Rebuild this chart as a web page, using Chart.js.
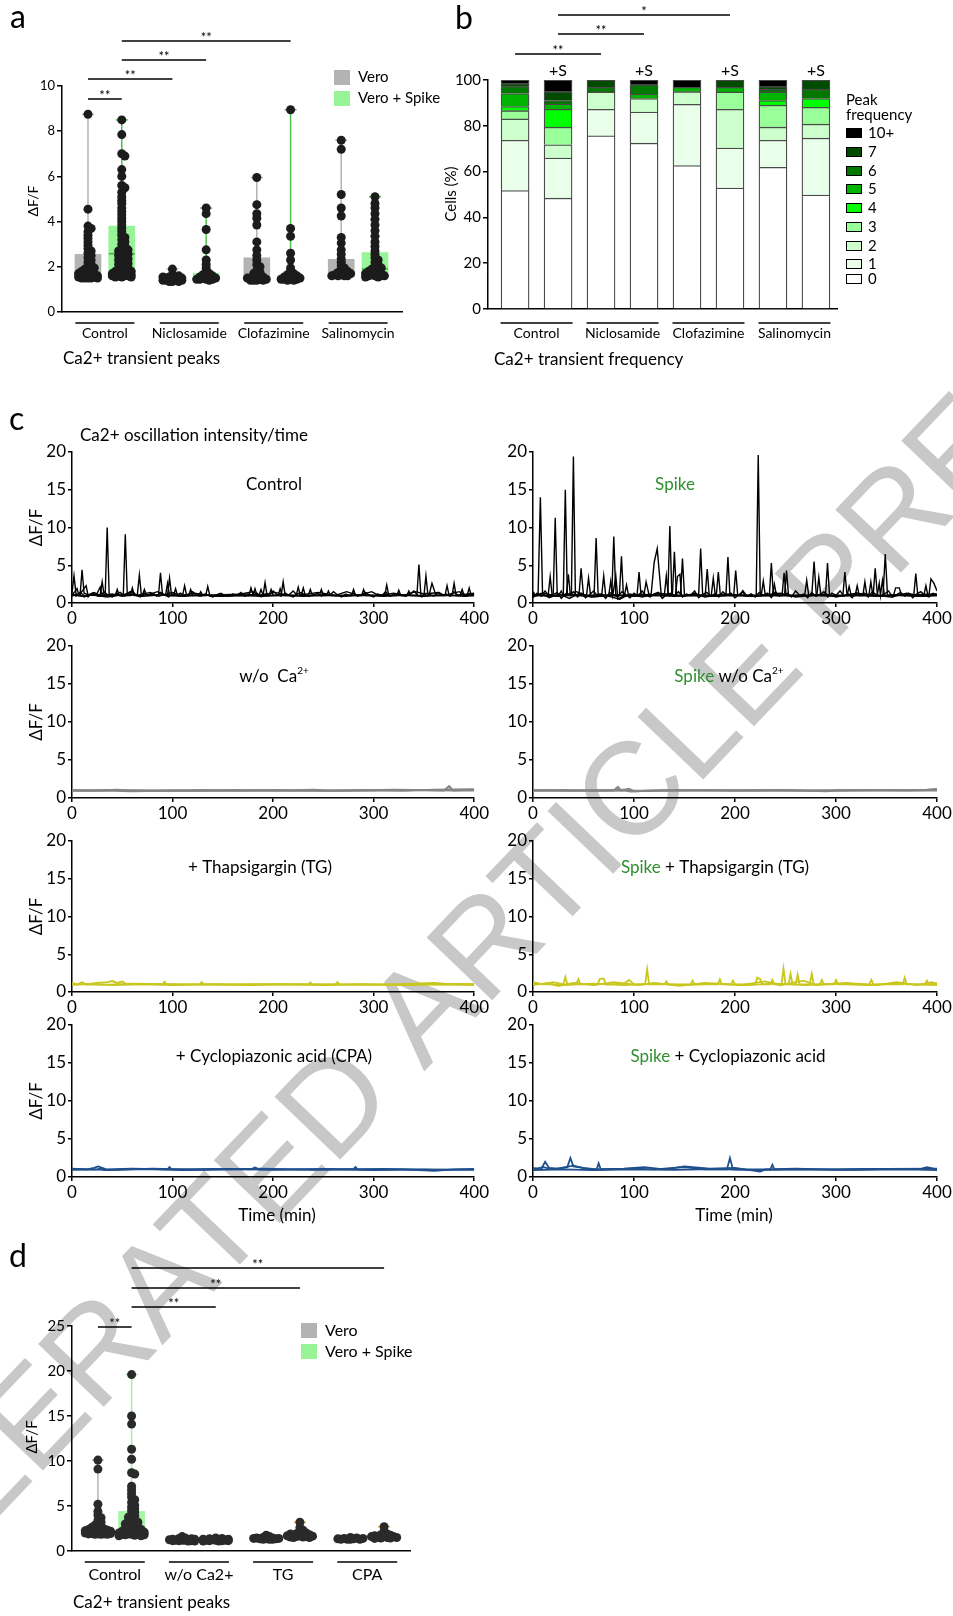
<!DOCTYPE html>
<html>
<head>
<meta charset="utf-8">
<title>Ca2+ transients</title>
<script src="https://cdn.jsdelivr.net/npm/chart.js"></script>
<style>
  body { margin: 0; background: #fff; }
  #page { position: relative; width: 953px; height: 1616px; overflow: hidden; background: #fff; }
  #page canvas { position: absolute; }
</style>
</head>
<body>
<div id="page"><canvas id="bg" width="953" height="1616" style="left:0;top:0"></canvas></div>
<script>
// ---------- panel a: peak dF/F per cell ----------
const groupsA = ['Control', 'Niclosamide', 'Clofazimine', 'Salinomycin'];
const conditions = ['Vero', 'Vero + Spike'];
const posA = [0, 1, 2.5, 3.5, 5, 6, 7.5, 8.5];
const aCtrlVero = [8.75, 4.55, 3.8, 3.7, 3.55, 3.4, 3.25, 3.1, 2.95, 2.8, 2.7, 2.6, 2.5, 2.4, 2.3, 2.2, 2.1, 2.0, 1.95, 1.9, 1.85, 1.8, 1.75, 1.7, 1.7, 1.65, 1.65, 1.6, 1.6, 1.6, 1.55, 1.55, 1.55, 1.55, 1.5, 1.5, 1.5, 1.5, 1.5];
const aCtrlSpike = [8.5, 7.85, 7.0, 6.9, 6.3, 6.0, 5.6, 5.5, 5.3, 5.1, 4.95, 4.8, 4.6, 4.45, 4.3, 4.15, 4.0, 3.85, 3.7, 3.55, 3.4, 3.3, 3.2, 3.1, 3.0, 2.9, 2.8, 2.75, 2.7, 2.6, 2.55, 2.5, 2.4, 2.35, 2.3, 2.2, 2.15, 2.1, 2.0, 1.95, 1.9, 1.85, 1.8, 1.8, 1.75, 1.75, 1.7, 1.7, 1.7, 1.65, 1.65, 1.65, 1.6, 1.6, 1.6, 1.6, 1.6, 1.55, 1.55, 1.55];
const aNicVero = [1.9, 1.65, 1.6, 1.55, 1.55, 1.5, 1.5, 1.5, 1.45, 1.45, 1.45, 1.4, 1.4, 1.4, 1.4, 1.4, 1.35, 1.35, 1.35];
const aNicSpike = [4.6, 4.35, 3.65, 2.75, 2.3, 2.1, 1.95, 1.8, 1.7, 1.65, 1.6, 1.55, 1.55, 1.5, 1.5, 1.5, 1.45, 1.45, 1.45, 1.45, 1.4];
const aClofVero = [5.95, 4.75, 4.35, 4.15, 3.85, 3.1, 2.75, 2.5, 2.3, 2.1, 2.0, 1.85, 1.75, 1.7, 1.6, 1.55, 1.5, 1.5, 1.45, 1.45, 1.4, 1.4, 1.4, 1.4];
const aClofSpike = [8.95, 3.7, 3.35, 2.6, 2.3, 1.95, 1.8, 1.7, 1.65, 1.6, 1.55, 1.55, 1.5, 1.5, 1.5, 1.45, 1.45, 1.45, 1.45, 1.4, 1.4];
const aSalVero = [7.6, 7.2, 5.2, 4.6, 4.25, 3.3, 3.05, 2.75, 2.55, 2.35, 2.2, 2.05, 1.95, 1.85, 1.8, 1.75, 1.7, 1.7, 1.65, 1.65, 1.6, 1.6, 1.6, 1.6];
const aSalSpike = [5.1, 4.8, 4.6, 4.35, 4.1, 3.85, 3.6, 3.35, 3.1, 2.9, 2.7, 2.55, 2.4, 2.3, 2.2, 2.1, 2.0, 1.95, 1.9, 1.85, 1.8, 1.75, 1.7, 1.7, 1.65, 1.65, 1.6, 1.6, 1.6, 1.6, 1.55, 1.55];
const boxLowA = [1.5, 1.55, 1.35, 1.4, 1.4, 1.4, 1.55, 1.55];
const boxHighA = [2.55, 3.8, 1.5, 1.72, 2.4, 1.6, 2.33, 2.63];
const medianA = [null, 2.58, null, null, null, null, null, 1.9];
const ticksA = [0, 2, 4, 6, 8, 10];

// ---------- panel b: peak frequency distribution (% cells) ----------
const groupsB = ['Control', 'Niclosamide', 'Clofazimine', 'Salinomycin'];
const posB = [0, 1, 2, 3, 4, 5, 6, 7];
const freqLevels = ['0', '1', '2', '3', '4', '5', '6', '7', '10+'];
const freqColors = ['#ffffff', '#eaffea', '#ccffcc', '#99ff99', '#00ff00', '#00b400', '#007800', '#004b00', '#000000'];
const bCtrlVero = [51.7, 22.0, 9.3, 3.6, 1.8, 5.7, 3.0, 1.3, 1.6];
const bCtrlSpike = [48.4, 17.5, 5.8, 7.7, 7.8, 2.3, 1.5, 3.9, 5.1];
const bNicVero = [75.6, 11.6, 7.6, 0, 0, 0, 2.0, 3.2, 0];
const bNicSpike = [72.4, 13.6, 5.9, 0, 0, 2.0, 4.05, 0, 2.05];
const bClofVero = [62.6, 26.8, 5.5, 0, 0, 1.9, 0, 0, 3.2];
const bClofSpike = [52.8, 17.5, 16.9, 7.6, 0, 2.0, 0, 3.2, 0];
const bSalVero = [61.9, 11.8, 5.7, 9.6, 2.0, 3.8, 1.1, 1.2, 2.9];
const bSalSpike = [49.8, 24.8, 6.1, 7.4, 3.8, 0, 4.0, 4.1, 0];
const ticksB = [0, 20, 40, 60, 80, 100];

// ---------- panel c: dF/F traces over time, [min, dF/F] ----------
const timeTicks = [0, 100, 200, 300, 400];
const dffTicks = [0, 5, 10, 15, 20];
const ctrl1 = [[0,1.3],[2,3.6],[4,1.2],[8,1.0],[10,4.4],[12,1.3],[16,1.1],[24,1.0],[28,2.1],[30,1.0],[33,1.0],[35,10.0],[37,1.0],[45,1.1],[51,1.0],[53,9.1],[55,1.0],[65,1.1],[67,3.7],[69,1.0],[80,1.2],[86,1.0],[88,4.0],[90,1.1],[95,1.0],[97,3.3],[99,1.0],[110,1.0],[112,2.3],[114,1.0],[133,1.0],[135,2.2],[137,1.0],[160,1.0],[176,1.0],[178,2.0],[180,1.1],[190,1.0],[192,2.7],[194,1.0],[208,1.0],[210,2.8],[212,1.0],[240,1.0],[278,1.0],[280,1.8],[282,1.0],[311,1.0],[313,2.4],[315,1.0],[343,1.0],[345,5.1],[347,1.0],[350,1.0],[352,3.6],[354,1.0],[378,1.0],[380,2.6],[382,1.0],[400,1.3]];
const ctrl2 = [[0,1.0],[5,1.9],[7,1.0],[14,2.3],[16,1.0],[22,1.4],[28,1.0],[30,2.8],[32,1.0],[43,1.0],[45,1.8],[47,1.0],[58,1.0],[60,2.0],[62,1.0],[70,1.0],[72,1.8],[74,1.0],[85,1.5],[93,1.0],[95,2.6],[97,1.0],[101,1.0],[103,1.9],[105,1.0],[116,1.0],[118,1.8],[120,1.0],[126,1.0],[128,1.5],[130,1.0],[150,1.1],[176,1.2],[180,1.0],[182,1.9],[184,1.0],[186,1.0],[188,1.8],[190,1.0],[196,1.0],[198,1.8],[200,1.0],[205,1.0],[207,1.9],[209,1.0],[223,1.0],[225,2.1],[227,1.0],[228,1.0],[230,2.0],[232,1.0],[235,1.0],[237,1.8],[239,1.0],[246,1.0],[248,1.8],[250,1.0],[253,1.0],[255,1.6],[257,1.0],[288,1.0],[290,1.8],[292,1.0],[323,1.0],[325,1.7],[327,1.0],[333,1.0],[335,1.6],[337,1.0],[355,1.0],[358,2.6],[362,1.0],[371,1.0],[373,2.3],[375,1.0],[386,1.0],[388,1.8],[390,1.0],[393,1.0],[395,2.0],[397,1.0],[400,1.0]];
const ctrl3 = [[0,0.9],[6,1.2],[12,0.8],[20,1.3],[26,0.9],[40,1.2],[50,0.9],[58,1.5],[64,1.0],[78,1.4],[86,0.9],[100,1.4],[108,1.0],[122,1.3],[140,0.9],[160,1.0],[180,1.5],[186,1.0],[202,1.4],[215,1.0],[220,1.6],[224,1.0],[245,1.4],[262,1.0],[273,1.5],[285,1.0],[298,1.5],[305,1.0],[320,1.3],[330,1.0],[342,1.5],[350,1.2],[365,1.4],[370,1.0],[385,1.5],[392,1.0],[400,1.2]];
const ctrl4 = [[0,1.1],[10,0.9],[20,1.1],[35,0.8],[55,1.2],[70,0.9],[90,1.1],[110,0.9],[130,1.1],[150,0.9],[170,1.0],[190,0.9],[210,1.1],[230,0.9],[250,1.1],[270,0.9],[290,1.1],[310,0.9],[330,1.1],[350,0.9],[370,1.1],[390,0.9],[400,1.0]];
// fine baseline wiggle of one more cell, sampled every 4 min
const sampleStep = 4;
const ctrlBase = [1.2,0.9,1.4,1.0,0.8,1.3,1.1,0.9,1.5,1.0,0.8,1.2,1.4,0.9,1.1,1.6,1.0,0.8,1.3,1.0,1.2,0.9,1.4,1.1,0.8,1.2,1.0,1.3,0.9,1.1,1.5,1.0,0.9,1.2,1.0,0.8,1.1,1.3,1.0,0.9,1.2,1.0,1.4,0.9,1.1,1.0,1.3,0.8,1.2,1.0,1.6,1.1,0.9,1.3,1.0,0.8,1.2,1.4,1.0,0.9,1.1,1.3,0.9,1.2,1.0,1.5,1.1,0.8,1.2,1.0,1.3,0.9,1.1,1.4,1.0,0.8,1.2,1.0,1.5,0.9,1.1,1.3,1.0,0.9,1.2,1.6,1.0,0.8,1.3,1.1,0.9,1.4,1.0,1.2,0.9,1.5,1.0,1.1,0.9,1.3,1.1];
const spikeBase = [0.7,1.3,0.9,1.6,0.8,1.1,1.4,0.6,1.2,1.0,1.5,0.8,1.3,0.7,1.1,1.6,0.9,1.2,0.6,1.4,1.0,0.8,1.5,1.1,0.7,1.3,0.9,1.6,1.0,0.8,1.2,1.4,0.6,1.1,1.3,0.9,1.5,0.8,1.2,1.0,1.6,0.7,1.1,1.4,0.9,1.2,0.8,1.5,1.0,1.3,0.7,1.1,1.6,0.9,1.2,0.8,1.4,1.0,1.3,0.7,1.5,0.9,1.1,1.3,0.8,1.6,1.0,1.2,0.7,1.4,0.9,1.1,1.5,0.8,1.3,1.0,1.6,0.9,1.2,0.7,1.4,1.0,1.3,0.8,1.5,1.1,0.9,1.2,1.6,0.8,1.1,1.4,0.9,1.3,0.7,1.2,1.5,1.0,0.8,1.3,1.1];
const spike1 = [[0,1.2],[5,1.0],[7.3,14.0],[9.5,1.0],[20,1.0],[22,11.3],[24,1.0],[30,1.0],[32,15.0],[34,1.0],[38,1.0],[40,19.4],[42,1.0],[60.5,1.0],[62.5,8.6],[64.5,1.0],[78,1.0],[80,8.8],[82,1.0],[133.5,1.0],[135.5,10.2],[137.5,1.0],[164,1.0],[166,7.2],[168,1.0],[191,1.0],[193,6.1],[195,1.0],[221,1.0],[223,19.6],[225,1.0],[276,1.0],[278.3,5.5],[280.5,1.0],[346.5,1.0],[348.8,6.5],[351,1.0],[400,1.2]];
const spike2 = [[0,1.0],[15,1.0],[17,3.5],[19,1.0],[33,1.0],[35,3.8],[37,1.0],[45.5,1.0],[47.6,4.6],[50,1.0],[53,1.0],[55,3.3],[57,1.0],[85.5,1.0],[87.6,6.2],[89.5,1.0],[103,1.0],[105,4.1],[107,1.0],[117,1.2],[120,5.4],[123,7.2],[127,1.0],[138,1.0],[140,6.8],[142,1.0],[146,1.0],[148,5.9],[150,1.0],[170.5,1.0],[172.5,4.5],[174.5,1.0],[198.7,1.0],[200.7,4.3],[202.7,1.0],[234,1.0],[236,5.3],[238,1.0],[249,1.0],[251,4.3],[253,1.0],[289.6,1.0],[291.6,5.3],[293.6,1.0],[306.8,1.0],[308.8,4.1],[311,1.0],[336.8,1.0],[338.8,4.6],[341,1.0],[377,1.0],[379,3.9],[381,1.0],[392,1.0],[394,3.2],[397,2.6],[400,1.6]];
const spike3 = [[0,1.5],[3,0.9],[10,1.3],[25,0.9],[28,1.6],[30,1.0],[43,1.5],[52,1.0],[68,1.0],[70,3.6],[72,1.0],[75,1.0],[77,2.9],[79,1.0],[82,3.6],[84,0.5],[90.6,1.0],[92.6,2.4],[94.6,1.0],[110,1.2],[112,2.8],[115,1.0],[130,1.0],[132,3.6],[134,1.0],[141,1.0],[143,3.5],[145.5,3.8],[147,1.0],[176.5,1.0],[178.5,3.3],[180.5,1.0],[181.5,1.0],[183.5,4.1],[185.5,1.0],[205.6,1.0],[207.6,1.6],[209.6,1.0],[226,1.0],[228,2.9],[230,1.0],[237,1.0],[239,2.5],[241,1.0],[246.6,1.0],[248.6,4.0],[250.6,1.0],[269,1.0],[271,3.0],[273,1.0],[281,1.0],[283,3.4],[285,1.0],[311,1.0],[313,2.2],[315,1.0],[319,1.0],[321,2.3],[323,1.0],[326.6,1.0],[328.6,2.8],[330.6,1.0],[332.5,1.0],[334.5,2.8],[336.5,1.0],[340.8,1.0],[342.8,2.6],[344,1.0],[346,3.0],[348,1.0],[357,1.0],[359,2.0],[362.6,2.0],[365,1.0],[387,1.0],[389,2.3],[391,1.0],[400,1.0]];
const spike4 = [[0,0.8],[8,1.3],[16,0.7],[26,1.2],[36,0.6],[46,1.3],[58,0.8],[66,1.2],[86,0.5],[96,1.2],[108,0.8],[125,1.3],[150,0.9],[160,1.3],[170,0.8],[190,1.2],[215,0.9],[245,1.3],[260,0.8],[290,1.2],[300,0.8],[320,1.3],[355,0.8],[370,1.3],[385,0.9],[400,1.1]];
const spike5 = [[0,1.1],[20,0.9],[40,1.1],[60,0.8],[80,1.1],[100,0.9],[120,1.1],[140,0.9],[160,1.1],[180,0.9],[200,1.1],[220,0.9],[240,1.1],[260,0.9],[280,1.1],[300,0.9],[320,1.1],[340,0.9],[360,1.1],[380,0.9],[400,1.0]];
const noCa1 = [[0,1.05],[20,0.95],[45,1.1],[55,1.0],[90,0.95],[130,1.05],[170,0.95],[210,1.0],[240,1.1],[260,0.95],[300,1.0],[340,1.05],[370,1.0],[375,1.55],[379,1.0],[395,1.1],[400,1.05]];
const noCa2 = [[0,0.95],[30,1.0],[60,0.9],[100,1.0],[150,0.95],[200,1.05],[250,0.95],[290,1.05],[330,0.95],[360,1.1],[400,1.15]];
const noCa3 = [[0,1.0],[40,1.05],[80,1.0],[120,0.95],[160,1.05],[220,0.95],[280,1.0],[320,1.1],[380,1.0],[400,1.0]];
const spNoCa1 = [[0,1.0],[30,1.05],[60,0.95],[80,1.0],[84,1.45],[87,1.0],[95,1.2],[100,0.9],[140,1.05],[200,0.95],[250,1.05],[290,0.9],[300,1.0],[350,1.05],[390,1.1],[400,1.2]];
const spNoCa2 = [[0,1.05],[40,0.95],[90,1.1],[96,0.85],[120,1.0],[170,1.05],[220,0.95],[270,1.0],[320,1.05],[370,1.0],[400,1.1]];
const spNoCa3 = [[0,0.95],[50,1.0],[110,0.95],[160,1.0],[230,1.05],[280,0.95],[340,1.0],[400,1.0]];
const tg1 = [[0,1.2],[5,1.0],[10,1.3],[15,1.0],[25,1.2],[35,1.3],[40,1.45],[45,1.2],[50,1.4],[55,1.0],[90,1.0],[92,1.35],[94,1.0],[127,1.0],[129,1.3],[131,1.0],[170,1.05],[235,1.0],[237,1.25],[239,1.0],[262,1.0],[264,1.3],[266,1.0],[320,1.0],[360,1.2],[370,1.1],[400,1.05]];
const tg2 = [[0,0.95],[20,1.1],[40,0.9],[70,1.05],[100,0.9],[140,1.05],[180,0.9],[210,1.0],[250,0.9],[290,1.05],[330,0.9],[370,1.0],[400,0.9]];
const tg3 = [[0,1.05],[30,0.95],[60,1.1],[110,1.0],[160,0.95],[200,1.05],[240,1.0],[300,0.95],[350,1.05],[400,1.0]];
const spTg1 = [[0,1.3],[10,1.0],[20,1.3],[30,1.0],[32,2.0],[34,1.0],[43,1.1],[45,1.7],[47,1.0],[64,1.0],[66,1.7],[70,1.8],[72,1.0],[90,1.1],[95,1.6],[100,1.0],[111,1.0],[113,3.0],[115,1.0],[130,1.0],[132,1.4],[134,1.0],[156,1.0],[158,1.5],[160,1.0],[183,1.0],[185,1.7],[187,1.0],[196,1.0],[198,1.5],[200,1.0],[220,1.0],[222,1.9],[225,1.7],[227,1.0],[235,1.0],[237,1.6],[239,1.0],[246,1.0],[248,3.1],[250,1.0],[253,1.0],[255,2.4],[257,1.0],[260,1.0],[262,2.3],[264,1.0],[274,1.0],[276,2.4],[278,1.0],[284,1.0],[286,1.6],[288,1.0],[298,1.0],[300,1.6],[302,1.0],[333,1.0],[335,1.6],[337,1.0],[366,1.0],[368,1.9],[370,1.0],[388,1.0],[390,1.5],[392,1.0],[400,1.2]];
const spTg2 = [[0,0.9],[15,1.2],[25,0.8],[40,1.2],[60,0.9],[80,1.3],[105,0.9],[120,1.2],[145,0.8],[170,1.2],[205,0.9],[230,1.4],[245,0.9],[268,1.5],[280,0.9],[310,1.2],[340,0.9],[360,1.3],[380,0.9],[395,1.3],[400,1.0]];
const spTg3 = [[0,1.1],[30,0.9],[60,1.1],[90,0.9],[120,1.1],[150,0.9],[180,1.1],[210,0.9],[240,1.1],[270,0.9],[300,1.1],[330,0.9],[360,1.1],[400,0.9]];
const cpa1 = [[0,1.1],[15,1.0],[22,1.2],[26,1.4],[30,1.2],[34,1.0],[60,1.1],[95,1.0],[97,1.3],[99,1.0],[140,1.05],[178,1.0],[182,1.25],[186,1.0],[230,1.0],[280,1.05],[282,1.3],[284,1.0],[330,1.0],[360,0.8],[380,1.0],[400,1.05]];
const cpa2 = [[0,0.95],[25,1.0],[28,1.1],[32,0.9],[70,1.05],[110,0.9],[160,1.05],[200,0.95],[250,1.05],[300,0.9],[350,1.0],[400,0.95]];
const cpa3 = [[0,1.05],[40,0.95],[80,1.1],[130,0.95],[190,1.1],[240,0.95],[310,1.05],[360,0.95],[400,1.0]];
const spCpa1 = [[0,1.2],[8,1.0],[12,2.0],[16,1.2],[25,1.1],[34,1.3],[37,2.5],[40,1.4],[50,1.2],[63,1.0],[65,1.8],[67,1.0],[100,1.1],[120,1.0],[150,1.3],[170,1.0],[192,1.0],[195,2.5],[198,1.0],[235,1.0],[237,1.6],[239,1.0],[280,1.0],[330,1.05],[385,1.1],[390,1.3],[400,1.0]];
const spCpa2 = [[0,1.0],[10,1.3],[20,1.0],[40,1.5],[55,1.0],[90,1.1],[110,1.3],[130,1.0],[150,1.4],[175,1.1],[200,1.2],[225,0.7],[230,1.0],[260,1.1],[300,0.95],[350,1.05],[400,1.1]];
const spCpa3 = [[0,0.9],[30,1.0],[60,0.9],[100,1.0],[140,0.95],[180,1.05],[220,0.9],[270,1.0],[320,0.95],[370,1.0],[400,0.9]];

// ---------- panel d: peak dF/F per cell, store-depletion conditions ----------
const groupsD = ['Control', 'w/o Ca2+', 'TG', 'CPA'];
const posD = [0, 1, 2.5, 3.5, 5, 6, 7.5, 8.5];
const dCtrlVero = [10.1, 9.1, 5.2, 4.4, 4.0, 3.7, 3.4, 3.2, 3.0, 2.85, 2.7, 2.6, 2.5, 2.45, 2.4, 2.35, 2.3, 2.3, 2.25, 2.2, 2.2, 2.15, 2.1, 2.1, 2.05, 2.0, 2.0, 2.0, 1.95, 1.95, 1.9, 1.9, 1.9, 1.85, 1.85, 1.85];
const dCtrlSpike = [19.6, 15.0, 14.1, 11.3, 10.2, 8.7, 8.55, 7.2, 6.8, 6.4, 6.0, 5.7, 5.4, 5.1, 4.9, 4.7, 4.5, 4.3, 4.1, 3.9, 3.75, 3.6, 3.45, 3.3, 3.2, 3.1, 3.0, 2.9, 2.8, 2.7, 2.6, 2.5, 2.45, 2.4, 2.3, 2.25, 2.2, 2.15, 2.1, 2.05, 2.0, 2.0, 1.95, 1.9, 1.9, 1.85, 1.85, 1.8, 1.8, 1.75, 1.7, 1.7];
const dNoCaVero = [1.6, 1.45, 1.4, 1.35, 1.3, 1.3, 1.25, 1.25, 1.2, 1.2, 1.2, 1.15, 1.15, 1.15, 1.1, 1.1];
const dNoCaSpike = [1.45, 1.4, 1.35, 1.3, 1.3, 1.25, 1.25, 1.2, 1.2, 1.2, 1.15, 1.15, 1.15, 1.1, 1.1];
const dTgVero = [1.75, 1.6, 1.5, 1.45, 1.45, 1.4, 1.4, 1.35, 1.35, 1.35, 1.3, 1.3, 1.3];
const dTgSpike = [3.2, 2.6, 2.3, 2.1, 2.0, 1.95, 1.9, 1.85, 1.8, 1.75, 1.7, 1.7, 1.65, 1.6, 1.6, 1.55, 1.55, 1.5, 1.5];
const dCpaVero = [1.5, 1.45, 1.4, 1.4, 1.35, 1.35, 1.3, 1.3, 1.3, 1.3];
const dCpaSpike = [2.7, 2.15, 1.9, 1.8, 1.75, 1.7, 1.65, 1.6, 1.6, 1.55, 1.5, 1.5, 1.45, 1.45, 1.4];
const boxLowD = [1.8, 1.7, 1.1, 1.1, 1.3, 1.5, 1.3, 1.4];
const boxHighD = [2.5, 4.4, 1.3, 1.25, 1.45, 1.95, 1.4, 1.7];
const medianD = [null, null, null, null, null, null, null, null];
const ticksD = [0, 5, 10, 15, 20, 25];

// ---------- drawing ----------
const FONT = 'Lato, "Open Sans", sans-serif';
const GREEN_TXT = '#2f8f2f';
Chart.defaults.font.family = FONT;
Chart.defaults.color = '#000';

function addCanvas(id, left, top, w, h) {
  const c = document.createElement('canvas');
  c.id = id; c.width = w; c.height = h;
  c.style.left = left + 'px'; c.style.top = top + 'px';
  c.style.width = w + 'px'; c.style.height = h + 'px';
  document.getElementById('page').appendChild(c);
  return c;
}

// beeswarm placement of dots (deterministic, in pixel space)
function swarm(values, pxX, pxY, r, half) {
  const placed = [];
  const step = r * 0.7, minDist = r * 0.75;
  const offs = [0];
  for (let k = 1; k * step <= half; k++) offs.push(k * step, -k * step);
  return values.slice().sort((p, q) => q - p).map(v => {
    const y = v * pxY;
    let best = 0, bestD = -1;
    for (const dx of offs) {
      let d = Infinity;
      for (const p of placed) d = Math.min(d, Math.hypot(p[0] - dx, p[1] - y));
      if (d >= minDist) { best = dx; bestD = d; break; }
      if (d > bestD) { bestD = d; best = dx; }
    }
    placed.push([best, y]);
    return { dx: best / pxX, y: v };
  });
}

function line(ctx, x1, y1, x2, y2, w, col) {
  ctx.strokeStyle = col || '#000'; ctx.lineWidth = w;
  ctx.beginPath(); ctx.moveTo(x1, y1); ctx.lineTo(x2, y2); ctx.stroke();
}
function text(ctx, s, x, y, size, align, base, rot) {
  ctx.save();
  ctx.fillStyle = '#000';
  ctx.font = size + 'px ' + FONT;
  ctx.textAlign = align || 'left'; ctx.textBaseline = base || 'middle';
  ctx.translate(x, y);
  if (rot) ctx.rotate(rot);
  ctx.fillText(s, 0, 0);
  ctx.restore();
}

// annotations tied to the x scale: significance bars, group underlines, legends
const panelDecor = {
  id: 'panelDecor',
  afterDraw(chart, args, o) {
    if (!o || !o.on) return;
    const ctx = chart.ctx, xs = chart.scales.x;
    ctx.save();
    (o.sig || []).forEach(([a, b, y, lab]) => {
      const x1 = xs.getPixelForValue(a), x2 = xs.getPixelForValue(b);
      line(ctx, x1, y, x2, y, 1.5);
      text(ctx, lab, (x1 + x2) / 2, y + 1, 13, 'center', 'alphabetic');
    });
    if (o.groups) {
      const g = o.groups;
      g.labels.forEach((lab, i) => {
        const c = (xs.getPixelForValue(g.pos[2 * i]) + xs.getPixelForValue(g.pos[2 * i + 1])) / 2;
        line(ctx, c - g.half, g.lineY, c + g.half, g.lineY, 1.5);
        text(ctx, lab, c, g.labelY, g.font, 'center', 'middle');
      });
    }
    (o.xTexts || []).forEach(t => text(ctx, t.label, xs.getPixelForValue(t.at), t.y, t.font, 'center', 'middle'));
    (o.texts || []).forEach(t => text(ctx, t.label, t.x, t.y, t.font, t.align, 'middle', t.rot));
    (o.legend || []).forEach(it => {
      ctx.fillStyle = it.color; ctx.fillRect(it.x, it.y, it.w, it.h);
      if (it.stroke) { ctx.strokeStyle = '#000'; ctx.lineWidth = 1; ctx.strokeRect(it.x + 0.5, it.y + 0.5, it.w - 1, it.h - 1); }
      text(ctx, it.label, it.tx, it.y + it.h / 2, it.font, 'left', 'middle');
    });
    ctx.restore();
  }
};
Chart.register(panelDecor);

const base = {
  responsive: false, animation: false, devicePixelRatio: 1, events: [],
  plugins: { legend: { display: false }, tooltip: { enabled: false } }
};

function yAxis(area, ticks, size, max) {
  return {
    type: 'linear', min: 0, max: max,
    afterFit: s => { s.width = area.l; },
    afterBuildTicks: s => { s.ticks = ticks.map(v => ({ value: v })); },
    ticks: { font: { size: size }, color: '#000', padding: 2 },
    grid: { drawOnChartArea: false, tickLength: 5, color: '#000', lineWidth: 1.5 },
    border: { color: '#000', width: 1.5 }
  };
}
function bareX(area, h, min, max) {
  return {
    type: 'linear', min: min, max: max, offset: false,
    afterFit: s => { s.height = h - area.b; },
    ticks: { display: false }, grid: { display: false, offset: false },
    border: { color: '#000', width: 1.5 }
  };
}

function dotPanel(id, L, cfg) {
  const c = addCanvas(id, L.left, L.top, L.w, L.h);
  const pxX = (L.r - L.l) / (cfg.xMax - cfg.xMin);
  const pxY = (L.b - L.t) / cfg.yMax;
  const maxOf = cfg.dots.map(v => Math.max(...v));
  const ds = [];
  ds.push({ type: 'bar', order: 5, data: cfg.pos.map((x, i) => ({ x: x, y: [cfg.low[i], cfg.high[i]] })),
    backgroundColor: cfg.pos.map((x, i) => cfg.fills[i % 2]), barThickness: cfg.barW, borderWidth: 0, grouped: false });
  [0, 1].forEach(k => {
    const pts = [];
    cfg.pos.forEach((x, i) => { if (i % 2 === k) pts.push({ x: x, y: cfg.high[i] }, { x: x, y: maxOf[i] }, { x: x, y: null }); });
    ds.push({ type: 'line', order: 4, data: pts, borderColor: cfg.whisk[k], borderWidth: 1.5, pointRadius: 0, spanGaps: false });
  });
  ds.push({ type: 'scatter', order: 3, data: cfg.pos.map((x, i) => ({ x: x, y: maxOf[i] })),
    pointStyle: 'line', pointRadius: 6, pointBorderColor: cfg.caps, pointBorderWidth: 1.5, borderColor: cfg.caps });
  ds.push({ type: 'scatter', order: 2, data: cfg.pos.map((x, i) => ({ x: x, y: cfg.median[i] })),
    pointStyle: 'line', pointRadius: 13, pointBorderColor: '#3cb43c', pointBorderWidth: 1.5, borderColor: '#3cb43c' });
  cfg.dots.forEach((vals, i) => {
    const sw = swarm(vals, pxX, pxY, cfg.r, cfg.half);
    ds.push({ type: 'scatter', order: 0, data: sw.map(p => ({ x: cfg.pos[i] + p.dx, y: p.y })),
      pointRadius: cfg.r, backgroundColor: cfg.dotColor, borderWidth: 0, pointBorderWidth: 0 });
  });
  new Chart(c, {
    type: 'bar',
    data: { datasets: ds },
    options: Object.assign({}, base, {
      layout: { padding: { left: 0, top: L.t, right: L.w - L.r, bottom: 0 } },
      scales: { x: bareX(L, L.h, cfg.xMin, cfg.xMax), y: yAxis(L, cfg.ticks, cfg.tickFont, cfg.yMax) },
      plugins: Object.assign({}, base.plugins, { panelDecor: cfg.decor })
    })
  });
}

// ---- panel a ----
dotPanel('chartA', { left: 0, top: 0, w: 470, h: 380, l: 62, t: 86, r: 402, b: 312 }, {
  xMin: -0.77, xMax: 9.3, yMax: 10, ticks: ticksA, tickFont: 13,
  pos: posA, dots: [aCtrlVero, aCtrlSpike, aNicVero, aNicSpike, aClofVero, aClofSpike, aSalVero, aSalSpike],
  low: boxLowA, high: boxHighA, median: medianA,
  fills: ['#b3b3b3', '#97f597'], whisk: ['#b4b4b4', '#4cc24c'],
  caps: ['#b4b4b4', '#4cc24c', '#b4b4b4', '#4cc24c', '#b4b4b4', '#4cc24c', '#b4b4b4', '#4cc24c'],
  dotColor: '#1c1c1c', r: 4.5, half: 12, barW: 26,
  decor: {
    on: true,
    sig: [[0, 1, 99, '**'], [0, 2.5, 79, '**'], [1, 3.5, 60, '**'], [1, 6, 41, '**']],
    groups: { labels: groupsA, pos: posA, lineY: 323, labelY: 333, half: 29.5, font: 14 },
    texts: [
      { label: 'Ca2+ transient peaks', x: 63, y: 359, font: 17, align: 'left' },
      { label: 'ΔF/F', x: 33, y: 201, font: 14, align: 'center', rot: -Math.PI / 2 }
    ],
    legend: [
      { label: conditions[0], color: '#b3b3b3', x: 334, y: 70, w: 16, h: 15, tx: 358, font: 15 },
      { label: conditions[1], color: '#97f597', x: 334, y: 91, w: 16, h: 15, tx: 358, font: 15 }
    ]
  }
});

// ---- panel b ----
(function () {
  const L = { left: 440, top: 0, w: 513, h: 380, l: 48, t: 80, r: 397, b: 309 };
  const c = addCanvas('chartB', L.left, L.top, L.w, L.h);
  const bars = [bCtrlVero, bCtrlSpike, bNicVero, bNicSpike, bClofVero, bClofSpike, bSalVero, bSalSpike];
  const ds = freqLevels.map((lev, k) => ({
    type: 'bar', label: lev,
    data: bars.map((b, i) => ({ x: posB[i], y: b[k] || null })),
    backgroundColor: freqColors[k], borderColor: '#4a4a4a', borderWidth: 1.3, barThickness: 28
  }));
  const rowsY = [133, 152, 171, 189, 208, 227, 246, 264, 279];
  const legend = freqLevels.slice().reverse().map((lev, i) => ({
    label: lev, color: freqColors[freqLevels.length - 1 - i], x: 406, y: rowsY[i] - 5, w: 16, h: 10, tx: 428, font: 15, stroke: true
  }));
  new Chart(c, {
    type: 'bar',
    data: { datasets: ds },
    options: Object.assign({}, base, {
      layout: { padding: { left: 0, top: L.t, right: L.w - L.r, bottom: 0 } },
      scales: {
        x: Object.assign(bareX(L, L.h, -0.63, 7.49), { stacked: true }),
        y: Object.assign(yAxis(L, ticksB, 15, 100), { stacked: true })
      },
      plugins: Object.assign({}, base.plugins, { panelDecor: {
        on: true,
        sig: [[0, 2, 54, '**'], [1, 3, 34, '**'], [1, 5, 15, '*']],
        groups: { labels: groupsB, pos: posB, lineY: 323, labelY: 333, half: 36, font: 14 },
        xTexts: [1, 3, 5, 7].map(p => ({ label: '+S', at: p, y: 71, font: 16 })),
        texts: [
          { label: 'Ca2+ transient frequency', x: 54, y: 360, font: 17, align: 'left' },
          { label: 'Cells (%)', x: 11, y: 194, font: 15, align: 'center', rot: -Math.PI / 2 },
          { label: 'Peak', x: 406, y: 100, font: 15, align: 'left' },
          { label: 'frequency', x: 406, y: 115, font: 15, align: 'left' }
        ],
        legend: legend
      } })
    })
  });
})();

// ---- panel c ----
function traceChart(id, left, top, w, h, area, traces, color, lw) {
  const c = addCanvas(id, left, top, w, h);
  new Chart(c, {
    type: 'line',
    data: { datasets: traces.map(tr => ({ data: tr.map(p => ({ x: p[0], y: p[1] })), borderColor: color, borderWidth: lw, pointRadius: 0, tension: 0, fill: false })) },
    options: Object.assign({}, base, {
      layout: { padding: { left: 0, top: area.t, right: w - area.r, bottom: 0 } },
      scales: {
        x: {
          type: 'linear', min: 0, max: 400,
          afterFit: s => { s.height = h - area.b; },
          afterBuildTicks: s => { s.ticks = timeTicks.map(v => ({ value: v })); },
          ticks: { font: { size: 17 }, color: '#000', padding: 1, maxRotation: 0, autoSkip: false },
          grid: { drawOnChartArea: false, tickLength: 4, color: '#000', lineWidth: 1.5 },
          border: { color: '#000', width: 1.5 }
        },
        y: Object.assign(yAxis(area, dffTicks, 17, 20), { grid: { drawOnChartArea: false, tickLength: 4, color: '#000', lineWidth: 1.5 } })
      }
    })
  });
}
const sampled = vals => vals.map((v, i) => [i * sampleStep, v]);
const rowsC = [[452, 603], [646, 798], [841, 992], [1025, 1177]];
const tracesC = [
  [[sampled(ctrlBase), ctrl4, ctrl3, ctrl2, ctrl1], [sampled(spikeBase), spike5, spike4, spike3, spike2, spike1], '#000000', 1.4],
  [[noCa3, noCa2, noCa1], [spNoCa3, spNoCa2, spNoCa1], '#858585', 2],
  [[tg3, tg2, tg1], [spTg3, spTg2, spTg1], '#c9c61e', 1.8],
  [[cpa3, cpa2, cpa1], [spCpa3, spCpa2, spCpa1], '#1f4f8c', 1.8]
];
rowsC.forEach(([t, b], i) => {
  const top = t - 20, h = (b - t) + 20 + 50;
  const area = { l: 72, t: 20, r: 476, b: 20 + (b - t) };
  traceChart('cL' + i, 0, top, 490, h, area, tracesC[i][0], tracesC[i][2], tracesC[i][3]);
  const areaR = { l: 43, t: 20, r: 447, b: 20 + (b - t) };
  traceChart('cR' + i, 490, top, 463, h, areaR, tracesC[i][1], tracesC[i][2], tracesC[i][3]);
});

// ---- panel d ----
dotPanel('chartD', { left: 0, top: 1230, w: 480, h: 386, l: 72, t: 96, r: 410, b: 321 }, {
  xMin: -0.77, xMax: 9.27, yMax: 25, ticks: ticksD, tickFont: 15,
  pos: posD, dots: [dCtrlVero, dCtrlSpike, dNoCaVero, dNoCaSpike, dTgVero, dTgSpike, dCpaVero, dCpaSpike],
  low: boxLowD, high: boxHighD, median: medianD,
  fills: ['#b3b3b3', '#a4f5a4'], whisk: ['#b4b4b4', '#a6eea6'],
  caps: ['#b4b4b4', '#a6eea6', '#b4b4b4', '#a6eea6', '#b4b4b4', '#f5a623', '#b4b4b4', '#f5a623'],
  dotColor: '#2a2a2a', r: 4.5, half: 13, barW: 26,
  decor: {
    on: true,
    sig: [[0, 1, 97, '**'], [1, 3.5, 77, '**'], [1, 6, 58, '**'], [1, 8.5, 38, '**']],
    groups: { labels: groupsD, pos: posD, lineY: 332, labelY: 345, half: 30, font: 16 },
    texts: [
      { label: 'Ca2+ transient peaks', x: 73, y: 373, font: 17, align: 'left' },
      { label: 'ΔF/F', x: 32, y: 207, font: 15, align: 'center', rot: -Math.PI / 2 }
    ],
    legend: [
      { label: conditions[0], color: '#b3b3b3', x: 301, y: 93, w: 16, h: 15, tx: 325, font: 16 },
      { label: conditions[1], color: '#97f597', x: 301, y: 114, w: 16, h: 15, tx: 325, font: 16 }
    ]
  }
});

// ---- background: watermark, panel letters, panel c labels ----
(function () {
  const ctx = document.getElementById('bg').getContext('2d');
  ctx.fillStyle = '#fff'; ctx.fillRect(0, 0, 953, 1616);
  ctx.save();
  ctx.translate(466, 975);
  ctx.rotate(-46.3 * Math.PI / 180);
  ctx.fillStyle = '#c8c8c8';
  ctx.font = '132px "Liberation Sans", Arial, sans-serif';
  ctx.textAlign = 'center'; ctx.textBaseline = 'middle';
  ctx.fillText('ACCELERATED ARTICLE PREVIEW', 0, 0);
  ctx.restore();

  [['a', 10, 28], ['b', 455, 29], ['c', 9, 430], ['d', 9, 1267]].forEach(([s, x, y]) => text(ctx, s, x, y, 32, 'left', 'alphabetic'));
  text(ctx, 'Ca2+ oscillation intensity/time', 80, 436, 17, 'left', 'middle');
  text(ctx, 'Time (min)', 277, 1216, 17, 'center', 'middle');
  text(ctx, 'Time (min)', 734, 1216, 17, 'center', 'middle');
  rowsC.forEach(([t, b]) => text(ctx, 'ΔF/F', 37, (t + b) / 2, 17, 'center', 'middle', -Math.PI / 2));

  const titles = [
    { cx: 274, y: 485, parts: [['Control', '#000']] },
    { cx: 675, y: 485, parts: [['Spike', GREEN_TXT]] },
    { cx: 274, y: 677, parts: [['w/o  Ca', '#000'], ['2+', '#000', 1]] },
    { cx: 729, y: 677, parts: [['Spike', GREEN_TXT], [' w/o Ca', '#000'], ['2+', '#000', 1]] },
    { cx: 260, y: 868, parts: [['+ Thapsigargin (TG)', '#000']] },
    { cx: 715, y: 868, parts: [['Spike', GREEN_TXT], [' + Thapsigargin (TG)', '#000']] },
    { cx: 274, y: 1057, parts: [['+ Cyclopiazonic acid (CPA)', '#000']] },
    { cx: 728, y: 1057, parts: [['Spike', GREEN_TXT], [' + Cyclopiazonic acid', '#000']] }
  ];
  ctx.textBaseline = 'middle'; ctx.textAlign = 'left';
  titles.forEach(tt => {
    const fontOf = p => (p[2] ? 10 : 17) + 'px ' + FONT;
    let total = 0;
    tt.parts.forEach(p => { ctx.font = fontOf(p); total += ctx.measureText(p[0]).width; });
    let x = tt.cx - total / 2;
    tt.parts.forEach(p => {
      ctx.font = fontOf(p); ctx.fillStyle = p[1];
      ctx.fillText(p[0], x, p[2] ? tt.y - 6 : tt.y);
      x += ctx.measureText(p[0]).width;
    });
  });
})();
</script>
</body>
</html>
